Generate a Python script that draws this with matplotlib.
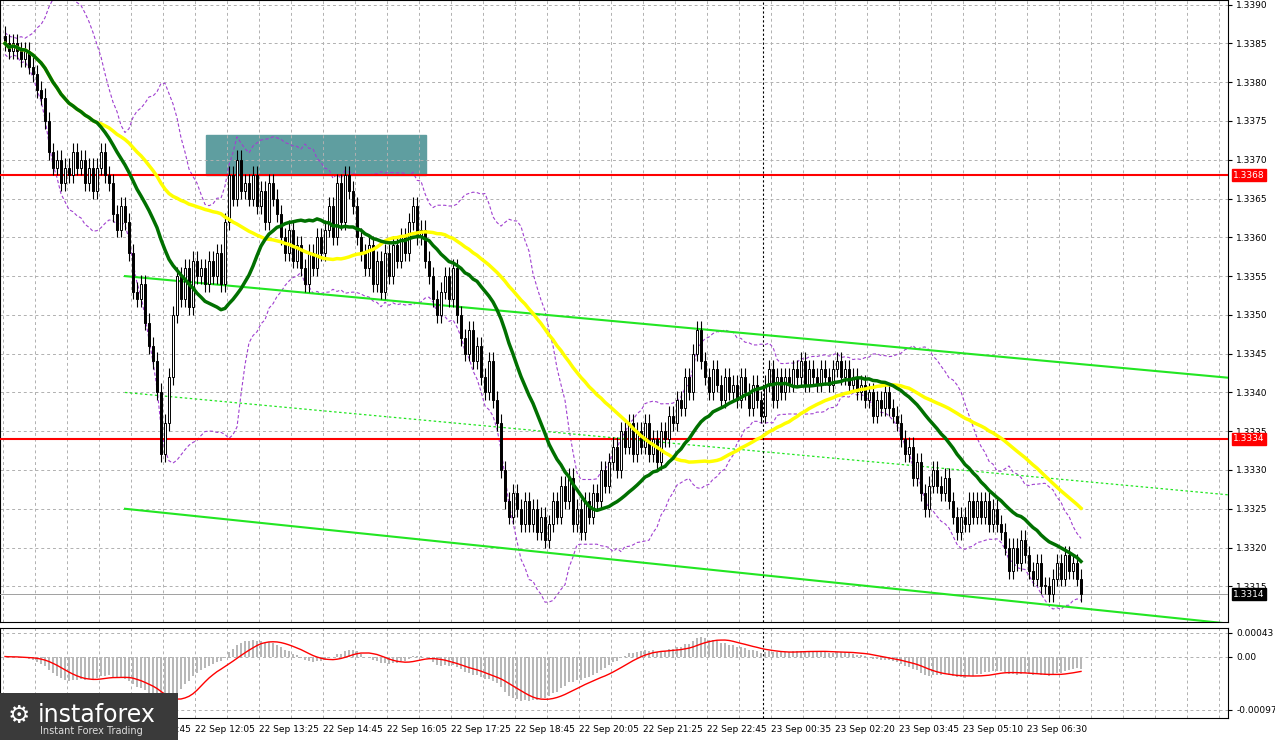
import numpy as np
import pandas as pd
import matplotlib
matplotlib.use("Agg")
import matplotlib.pyplot as plt
from matplotlib.patches import Rectangle

closes = [
1.3385,1.3384,1.3385,1.3384,1.3383,1.3384,1.3382,1.3381,1.3379,1.3378,
1.3375,1.3371,1.3369,1.3370,1.3367,1.3369,1.3368,1.3371,1.3369,1.3370,
1.3367,1.3369,1.3366,1.3369,1.3371,1.3368,1.3367,1.3363,1.3361,1.3364,
1.3362,1.3358,1.3353,1.3352,1.3354,1.3349,1.3346,1.3344,1.3340,1.3332,
1.3336,1.3342,1.3350,1.3355,1.3352,1.3356,1.3351,1.3357,1.3355,1.3356,
1.3354,1.3357,1.3355,1.3358,1.3354,1.3362,1.3368,1.3365,1.3370,1.3366,
1.3367,1.3365,1.3368,1.3364,1.3366,1.3362,1.3367,1.3365,1.3363,1.3360,
1.3358,1.3361,1.3357,1.3359,1.3356,1.3354,1.3358,1.3356,1.3360,1.3358,
1.3361,1.3364,1.3360,1.3367,1.3362,1.3368,1.3366,1.3364,1.3360,1.3358,
1.3356,1.3359,1.3354,1.3357,1.3353,1.3358,1.3355,1.3359,1.3357,1.3360,
1.3358,1.3362,1.3364,1.3360,1.3361,1.3357,1.3355,1.3352,1.3350,1.3353,
1.3355,1.3352,1.3356,1.3350,1.3347,1.3345,1.3348,1.3344,1.3346,1.3342,
1.3340,1.3344,1.3339,1.3336,1.3330,1.3326,1.3324,1.3327,1.3325,1.3323,
1.3326,1.3323,1.3325,1.3322,1.3324,1.3321,1.3323,1.3326,1.3324,1.3328,
1.3326,1.3329,1.3323,1.3325,1.3322,1.3326,1.3324,1.3327,1.3326,1.3330,
1.3328,1.3331,1.3333,1.3330,1.3335,1.3333,1.3336,1.3332,1.3335,1.3333,
1.3336,1.3332,1.3334,1.3331,1.3335,1.3334,1.3337,1.3336,1.3339,1.3338,
1.3342,1.3340,1.3345,1.3348,1.3344,1.3342,1.3340,1.3343,1.3341,1.3339,
1.3342,1.3340,1.3341,1.3339,1.3342,1.3340,1.3338,1.3341,1.3339,1.3337,
1.3341,1.3343,1.3339,1.3342,1.3340,1.3342,1.3341,1.3343,1.3342,1.3344,
1.3341,1.3343,1.3342,1.3341,1.3343,1.3342,1.3341,1.3343,1.3344,1.3342,
1.3343,1.3341,1.3342,1.3340,1.3341,1.3339,1.3340,1.3337,1.3339,1.3338,
1.3340,1.3338,1.3337,1.3336,1.3334,1.3332,1.3333,1.3329,1.3331,1.3327,
1.3325,1.3328,1.3330,1.3328,1.3327,1.3329,1.3326,1.3324,1.3322,1.3324,
1.3323,1.3326,1.3324,1.3326,1.3324,1.3326,1.3323,1.3325,1.3323,1.3322,
1.3320,1.3317,1.3320,1.3318,1.3321,1.3319,1.3317,1.3316,1.3318,1.3315,
1.3315,1.3314,1.3316,1.3318,1.3316,1.3319,1.3317,1.3318,1.3316,1.3314]
first_open = 1.3386

price_ticks = [1.3315,1.3320,1.3325,1.3330,1.3335,1.3340,1.3345,1.3350,1.3355,
               1.3360,1.3365,1.3370,1.3375,1.3380,1.3385,1.3390]
levels = [1.3368, 1.3334]
last_price = 1.3314
time_labels = ["22 Sep 10:45","22 Sep 12:05","22 Sep 13:25","22 Sep 14:45","22 Sep 16:05",
               "22 Sep 17:25","22 Sep 18:45","22 Sep 20:05","22 Sep 21:25","22 Sep 22:45",
               "23 Sep 00:35","23 Sep 02:20","23 Sep 03:45","23 Sep 05:10","23 Sep 06:30"]
upper_ch = [(30, 1.3355), (305.75, 1.33419)]
mid_ch = [(30, 1.3340), (305.75, 1.33268)]
lower_ch = [(30, 1.3325), (305.75, 1.33102)]
zone = (50.25, 105.25, 1.3368, 1.33732)
vline_bar = 189.5

c = pd.Series(closes)
o = pd.Series([first_open] + closes[:-1])
n = len(c)
idx = np.arange(n)
hi = np.maximum(o, c) + 0.00012
lo = np.minimum(o, c) - 0.00010

ma_fast = c.rolling(24, min_periods=1).mean()
ma_slow = c.rolling(55, min_periods=1).mean()
bb_mid = c.rolling(20, min_periods=1).mean()
bb_sd = c.rolling(20, min_periods=2).std().bfill()
bb_up = bb_mid + 2 * bb_sd
bb_dn = bb_mid - 2 * bb_sd
macd = c.ewm(span=12, adjust=False).mean() - c.ewm(span=26, adjust=False).mean()
signal = macd.rolling(9, min_periods=1).mean()

W, H = 1275, 740
fig = plt.figure(figsize=(W/100, H/100), dpi=100)
ax = fig.add_axes([0, 1-622/H, 1228/W, 622/H])
axm = fig.add_axes([0, 1-718/H, 1228/W, 90/H])

xmin, xmax = -1.25, 305.75
for a in (ax, axm):
    a.set_xlim(xmin, xmax)
    a.set_facecolor("white")
    for s in a.spines.values():
        s.set_color("black"); s.set_linewidth(0.8)
    a.yaxis.tick_right()
    a.tick_params(axis="y", labelsize=6.5, length=3, pad=3)
    a.set_xticks(np.arange(-0.5, xmax, 8))
    a.tick_params(axis="x", length=0, labelbottom=False)
    a.grid(True, color="#b0b0b0", linestyle=(0, (3, 3)), linewidth=0.7)

ax.set_ylim(1.33104, 1.33906)
ax.set_yticks(price_ticks)
ax.set_yticklabels([f"{v:.4f}" for v in price_ticks])

ax.add_patch(Rectangle((zone[0], zone[2]), zone[1]-zone[0], zone[3]-zone[2],
                       color="#5f9ea0", zorder=1))
ax.plot(idx, bb_up, color="#a040d0", lw=0.8, ls=(0, (3, 2)), zorder=2)
ax.plot(idx, bb_dn, color="#a040d0", lw=0.8, ls=(0, (3, 2)), zorder=2)

for lv in levels:
    ax.axhline(lv, color="#ff0000", lw=1.5, zorder=3)
ax.axhline(last_price, color="#a0a0a0", lw=0.7, zorder=3)
for ch in (upper_ch, lower_ch):
    ax.plot([p[0] for p in ch], [p[1] for p in ch], color="#22e622", lw=1.5, zorder=3)
ax.plot([p[0] for p in mid_ch], [p[1] for p in mid_ch], color="#22e622", lw=0.9,
        ls=(0, (2, 2)), zorder=3)
ax.axvline(vline_bar, color="black", lw=0.8, ls=(0, (2, 2)), zorder=3)
axm.axvline(vline_bar, color="black", lw=0.8, ls=(0, (2, 2)), zorder=3)

bw = 0.7
for i in range(n):
    up = c[i] >= o[i]
    ax.vlines(i, lo[i], hi[i], color="black", lw=0.8, zorder=4)
    b0 = min(o[i], c[i]); bh = max(abs(c[i]-o[i]), 0.000015)
    ax.add_patch(Rectangle((i-bw/2, b0), bw, bh, facecolor="white" if up else "black",
                           edgecolor="black", lw=0.7, zorder=5))

ax.plot(idx, ma_slow, color="#ffff00", lw=2.5, zorder=6)
ax.plot(idx, ma_fast, color="#007000", lw=2.5, zorder=7)

def tag(a, y, txt, fc, tc):
    a.text(1.004, y, txt, transform=a.get_yaxis_transform(), fontsize=6.5, color=tc,
           va="center", ha="left", zorder=10,
           bbox=dict(boxstyle="square,pad=0.15", fc=fc, ec=fc))
tag(ax, levels[0], f"{levels[0]:.4f}", "#ff0000", "white")
tag(ax, levels[1], f"{levels[1]:.4f}", "#ff0000", "white")
tag(ax, last_price, f"{last_price:.4f}", "black", "white")

axm.set_ylim(-0.00112, 0.00052)
axm.set_yticks([0.00043, 0.0, -0.00097])
axm.set_yticklabels(["0.00043", "0.00", "-0.00097"])
axm.bar(idx, macd, width=0.6, color="#b8b8b8", zorder=3)
axm.plot(idx, signal, color="#ff0000", lw=1, zorder=4)

for k, lab in enumerate(time_labels):
    xb = 31.5 + 16*k
    xf = (xb - xmin) / (xmax - xmin) * 1228 / W
    fig.text(xf, 1-729/H, lab, fontsize=6.5, ha="left", va="center")

fig.patches.append(Rectangle((0, 0), 178/W, 47/H, transform=fig.transFigure,
                             facecolor="#3a3a3a", edgecolor="none", zorder=20))
fig.text(38/W, 1-715/H, "instaforex", fontsize=17, color="white", va="center",
         ha="left", zorder=21)
fig.text(40/W, 1-731/H, "Instant Forex Trading", fontsize=7, color="#dddddd",
         va="center", ha="left", zorder=21)
fig.text(8/W, 1-716/H, "\u2699", fontsize=18, color="white", va="center",
         ha="left", zorder=21)

fig.savefig("out.png", dpi=100)
